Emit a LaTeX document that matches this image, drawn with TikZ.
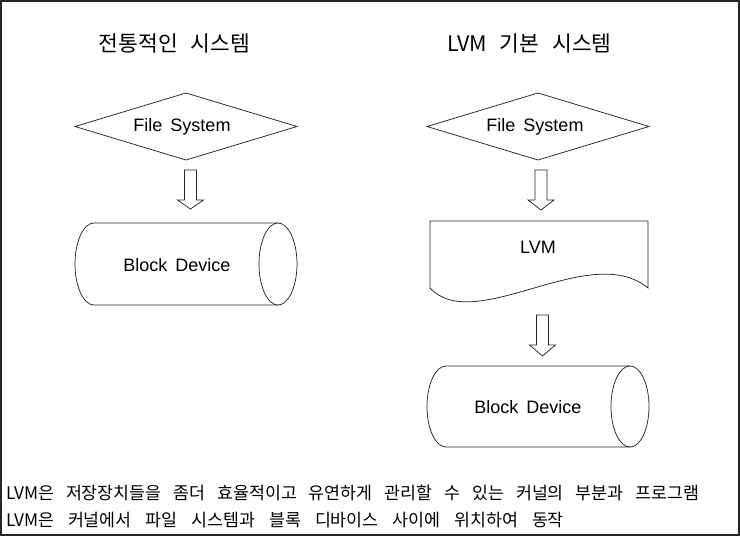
\documentclass[tikz,border=0pt]{standalone}
\usepackage{fontspec}
\setmainfont{Liberation Sans}
\newfontfamily\kr{Noto Sans CJK KR}
\newcommand\wsp[1]{\spaceskip #1\relax}
\begin{document}
\begin{tikzpicture}[x=1pt,y=-1pt,
  shapeline/.style={draw=black!85,line width=0.75pt,fill=white},
  lbl/.style={inner sep=0pt,font={\fontsize{18}{20}\selectfont\wsp{8pt}}},
  title/.style={inner sep=0pt,font={\kr\fontsize{21.5}{24}\selectfont\wsp{13pt}}},
  note/.style={inner sep=0pt,anchor=west,font={\kr\fontsize{17.3}{19}\selectfont\wsp{12pt}}},
  pics/harrow/.style args={#1/#2}{code={
    \draw[shapeline] (-6,0) -- (6,0) -- (6,#1-#2) -- (13,#1-#2) -- (0,#1) -- (-13,#1-#2) -- (-6,#1-#2) -- cycle;}}]
\useasboundingbox (0,0) rectangle (740,536);
\draw[line width=2pt,black!85] (1,1) rectangle (739,535);

% titles
\node[title] (t1) at (174.5,43.5) {전통적인 시스템};
\node[title] (t2) at (529.5,43.5) {LVM 기본 시스템};

% left column
\coordinate (d1) at (186,126.5);
\draw[shapeline] (d1) ++(-111,0) -- ++(111,-33.5) -- ++(111,33.5) -- ++(-111,33.5) -- cycle;
\node[lbl] (fs1) at (182,127) {File System};
\pic at (190.5,170) {harrow=39/9};
\coordinate (c1) at (186,264);
\draw[shapeline] (94,223) -- (278,223) -- (278,305) -- (94,305) arc[start angle=90,end angle=270,x radius=19,y radius=41] -- cycle;
\draw[shapeline] (278,264) ellipse[x radius=19,y radius=41];
\node[lbl] (bd1) at (177,265) {Block Device};

% right column
\coordinate (d2) at (538,126.5);
\draw[shapeline] (d2) ++(-111,0) -- ++(111,-33.5) -- ++(111,33.5) -- ++(-111,33.5) -- cycle;
\node[lbl] (fs2) at (535,127) {File System};
\pic at (541,170) {harrow=40/10};
\draw[shapeline] (430,221) -- (648,221) -- (648,288) .. controls (590,240) and (475,336) .. (430,288) -- cycle;
\node[lbl] (lvm) at (538,247) {LVM};
\pic at (542.5,315) {harrow=41/11};
\draw[shapeline] (446,366) -- (630,366) -- (630,447) -- (446,447) arc[start angle=90,end angle=270,x radius=19,y radius=40.5] -- cycle;
\draw[shapeline] (630,406.5) ellipse[x radius=19,y radius=40.5];
\node[lbl] (bd2) at (528,407) {Block Device};

% notes
\node[note] (n1) at (6,493) {LVM은 저장장치들을 좀더 효율적이고 유연하게 관리할 수 있는 커널의 부분과 프로그램};
\node[note,font={\kr\fontsize{17.3}{19}\selectfont\wsp{14pt}}] (n2) at (6,520.5) {LVM은 커널에서 파일 시스템과 블록 디바이스 사이에 위치하여 동작};
\end{tikzpicture}
\end{document}
